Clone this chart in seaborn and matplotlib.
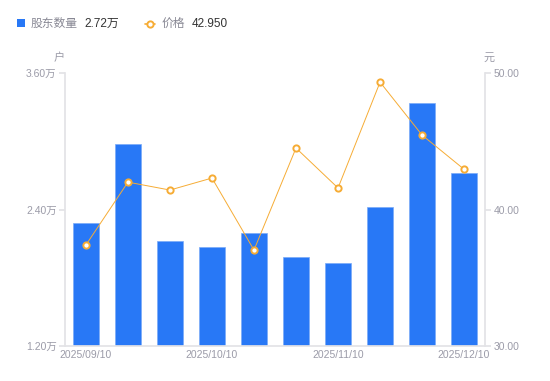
import matplotlib.pyplot as plt
import seaborn as sns
import pandas as pd
from matplotlib.lines import Line2D
from matplotlib.patches import Rectangle
from matplotlib.ticker import FuncFormatter, FixedLocator

dates = ['2025/09/10', '2025/09/19', '2025/09/30', '2025/10/10', '2025/10/20',
         '2025/10/31', '2025/11/10', '2025/11/20', '2025/11/28', '2025/12/10']
holders = [2.28, 2.98, 2.12, 2.07, 2.19, 1.98, 1.93, 2.42, 3.34, 2.72]  # 万户
price = [37.40, 42.01, 41.43, 42.31, 37.03, 44.51, 41.58, 49.34, 45.46, 42.95]
shown_dates = ['2025/09/10', '2025/10/10', '2025/11/10', '2025/12/10']

df = pd.DataFrame({'date': dates, 'holders': holders, 'price': price})

sns.set_theme(style='white')
plt.rcParams['font.family'] = ['Liberation Sans', 'Noto Sans CJK SC', 'DejaVu Sans']

blue = '#2878f6'
orange = '#f6ac35'
grey = '#9b9ba8'
axis_c = '#e3e3e6'

fig = plt.figure(figsize=(5.5, 3.81), dpi=100)
ax = fig.add_axes([0.118, 0.092, 0.764, 0.716])

sns.barplot(data=df, x='date', y='holders', color=blue, width=0.6,
            saturation=1, edgecolor='#7aaaf8', linewidth=0.5, ax=ax)
ax.set_ylim(1.2, 3.6)
ax.set_xlim(-0.5, len(dates) - 0.5)
ax.yaxis.set_major_locator(FixedLocator([1.2, 2.4, 3.6]))
ax.yaxis.set_major_formatter(FuncFormatter(lambda v, p: f'{v:.2f}万'))

ax2 = ax.twinx()
sns.lineplot(x=list(range(len(dates))), y=price, color=orange, linewidth=0.7,
             marker='o', markersize=4.5, markerfacecolor='white',
             markeredgecolor=orange, markeredgewidth=1.4, ax=ax2)
ax2.set_ylim(30, 50)
ax2.yaxis.set_major_locator(FixedLocator([30, 40, 50]))
ax2.yaxis.set_major_formatter(FuncFormatter(lambda v, p: f'{v:.2f}'))

ticks = [dates.index(d) for d in shown_dates]
ax.set_xticks(ticks)
ax.set_xticklabels(shown_dates)

for a in (ax, ax2):
    a.set_xlabel('')
    a.set_ylabel('')
    a.grid(False)
    for s in a.spines.values():
        s.set_visible(False)
    a.tick_params(colors=grey, labelsize=7.5, length=0)
ax.spines['left'].set_visible(True)
ax.spines['left'].set_color(axis_c)
ax.spines['bottom'].set_visible(True)
ax.spines['bottom'].set_color(axis_c)
ax2.spines['right'].set_visible(True)
ax2.spines['right'].set_color(axis_c)
ax.tick_params(axis='y', length=4, color=axis_c, pad=2)
ax2.tick_params(axis='y', length=4, color=axis_c, pad=2)
ax.tick_params(axis='x', pad=3)

fig.text(0.107, 0.84, '户', color=grey, fontsize=8, ha='center')
fig.text(0.89, 0.84, '元', color=grey, fontsize=8, ha='center')

# legend
fig.patches.append(Rectangle((0.031, 0.928), 0.015, 0.021, transform=fig.transFigure,
                             facecolor=blue, edgecolor='none'))
fig.text(0.055, 0.938, '股东数量', color='#888894', fontsize=8.5, va='center')
fig.text(0.153, 0.938, '2.72万', color='#333333', fontsize=8.5, va='center')
fig.lines.append(Line2D([0.264, 0.282], [0.938, 0.938], transform=fig.transFigure,
                        color=orange, linewidth=1.2))
fig.lines.append(Line2D([0.273], [0.938], transform=fig.transFigure,
                        linestyle='none', marker='o', markersize=4.5,
                        markerfacecolor='white', markeredgecolor=orange,
                        markeredgewidth=1.4))
fig.text(0.293, 0.938, '价格', color='#888894', fontsize=8.5, va='center')
fig.text(0.348, 0.938, '42.950', color='#333333', fontsize=8.5, va='center')

fig.savefig('out.png', dpi=100)
